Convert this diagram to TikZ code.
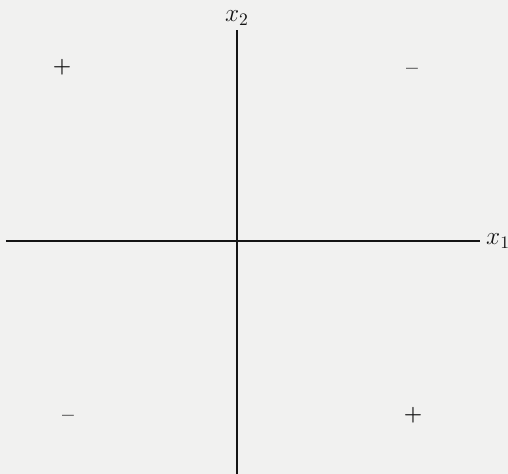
\documentclass[tikz,border=0pt]{standalone}
\usetikzlibrary{positioning}
\definecolor{paper}{HTML}{F1F1F0}
\definecolor{ink}{HTML}{151515}

\begin{document}
\begin{tikzpicture}[x=0.02cm,y=-0.02cm,font=\Large,text=ink,
  axis/.style={ink,line width=1.5pt},
  sign/.style={font=\large\bfseries}]
  \useasboundingbox (0,0) rectangle (508,474);
  \fill[paper] (0,0) rectangle (508,474);

  % axes
  \coordinate (xleft) at (6,241);
  \coordinate (xright) at (480,241);
  \coordinate (ytop) at (237,30);
  \coordinate (ybottom) at (237,476);
  \draw[axis] (xleft) -- (xright);
  \draw[axis] (ybottom) -- (ytop);
  \node[above=-1pt] (xtwo) at (ytop) {$x_2$};
  \node[right=0pt] (xone) at (xright) {$x_1$};

  % quadrant signs
  \node[sign] (plusul) at (62,67) {+};
  \node[sign] (minusur) at (412,71) {--};
  \node[sign] (minusll) at (68,418) {--};
  \node[sign] (pluslr) at (413,415) {+};
\end{tikzpicture}
\end{document}
